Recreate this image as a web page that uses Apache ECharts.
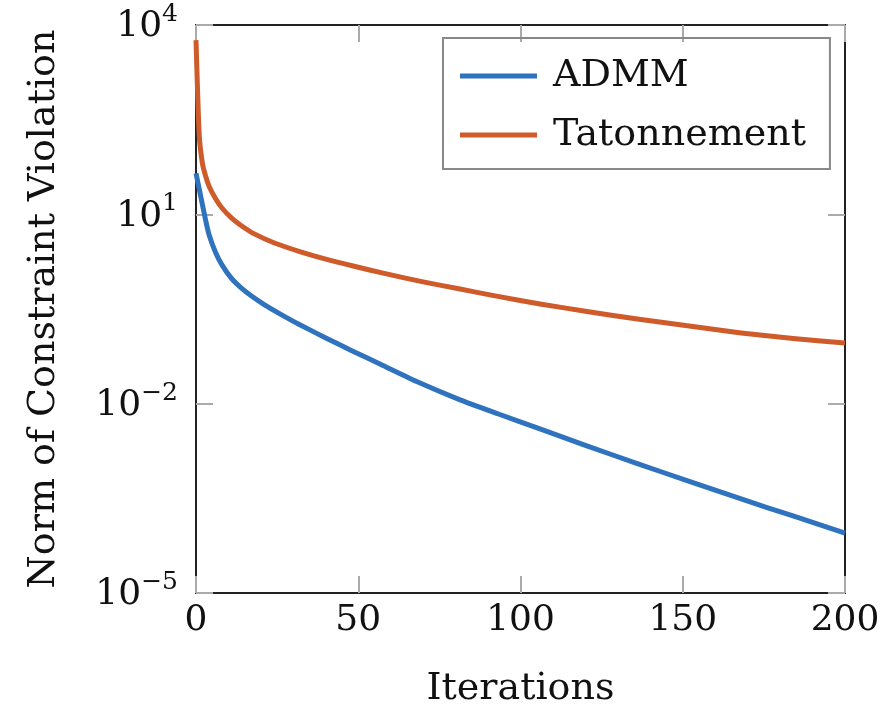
<!DOCTYPE html>
<html>
<head>
<meta charset="utf-8">
<script src="https://cdn.jsdelivr.net/npm/echarts@6/dist/echarts.min.js"></script>
<style>
  html, body { margin: 0; padding: 0; background: #fff; }
  #chart { width: 886px; height: 708px; }
</style>
</head>
<body>
<div id="chart"></div>
<script>
// 数据 - 读自原图
const admmIter   = [0, 1, 2, 3, 4, 6, 8, 11, 14, 17, 21, 26, 32, 40, 48, 57, 68, 81, 93, 106, 120, 136, 152, 168, 184, 200];
const admmValues = [44.7, 25.1, 14.1, 7.94, 4.79, 2.51, 1.58, 0.955, 0.676, 0.513, 0.372, 0.263, 0.178, 0.110, 0.0692, 0.0417,
                    0.0224, 0.0117, 0.00692, 0.00398, 0.00219, 0.00112, 0.000589, 0.000309, 0.000166, 0.0000891];

const tatIter    = [0, 1, 2, 3, 4, 6, 8, 11, 14, 18, 24, 32, 40, 50, 57, 70, 81, 93, 106, 120, 136, 152, 168, 184, 200];
const tatValues  = [5750, 178, 63.1, 39.8, 28.2, 17.8, 12.6, 8.71, 6.61, 4.90, 3.55, 2.57, 1.95, 1.45, 1.19, 0.851,
                    0.661, 0.501, 0.380, 0.292, 0.219, 0.170, 0.132, 0.108, 0.0912];

const xTicks     = [0, 50, 100, 150, 200];
const yTickExp   = { "-5": "−5", "-2": "−2", "1": "1", "4": "4" };

const font = "DejaVu Serif";

let chart = echarts.init(document.getElementById('chart'));

let frameLine = { show: true, onZero: false, lineStyle: { color: '#222', width: 2 } };
let innerTick = { show: true, inside: true, length: 17, lineStyle: { color: '#aaa', width: 2 } };

let option = {
    animation: false,
    backgroundColor: '#fff',
    grid: { left: 196, top: 25, right: 41, bottom: 115, outerBoundsMode: 'none', containLabel: false },
    legend: {
        left: 443, top: 38,
        orient: 'vertical',
        icon: 'rect',
        itemWidth: 77, itemHeight: 5,
        itemGap: 21, itemTextGap: 16,
        padding: [19, 24, 15, 17],
        borderColor: '#888', borderWidth: 2,
        textStyle: { fontFamily: font, fontSize: 38, lineHeight: 36, color: '#111', padding: [0, 0, 0, 11] },
        data: ['ADMM', 'Tatonnement']
    },
    xAxis: [{
        type: 'value', min: xTicks[0], max: xTicks[xTicks.length - 1], interval: 50,
        name: 'Iterations', nameLocation: 'middle', nameGap: 77,
        nameTextStyle: { fontFamily: font, fontSize: 38, color: '#111' },
        axisLine: frameLine, axisTick: innerTick,
        axisLabel: { fontFamily: font, fontSize: 36, color: '#111', margin: 10 },
        splitLine: { show: false }
    }, {
        type: 'value', position: 'top', min: 0, max: 200, interval: 50,
        axisLine: frameLine, axisTick: innerTick,
        axisLabel: { show: false }, splitLine: { show: false }
    }],
    yAxis: [{
        type: 'log', logBase: 10, min: 1e-5, max: 1e4, interval: 3,
        name: 'Norm of Constraint Violation', nameLocation: 'middle', nameGap: 133,
        nameTextStyle: { fontFamily: font, fontSize: 38, color: '#111' },
        axisLine: frameLine, axisTick: innerTick,
        axisLabel: {
            margin: 18,
            formatter: v => {
                let e = Math.round(Math.log10(v));
                return '{b|10}{s|' + (yTickExp[e] || e) + '}';
            },
            rich: {
                b: { fontFamily: font, fontSize: 36, color: '#111', verticalAlign: 'bottom', lineHeight: 40 },
                s: { fontFamily: font, fontSize: 25, color: '#111', verticalAlign: 'bottom', lineHeight: 40, padding: [0, 0, 18, 0] }
            }
        },
        splitLine: { show: false }
    }, {
        type: 'log', logBase: 10, position: 'right', min: 1e-5, max: 1e4, interval: 3,
        axisLine: frameLine, axisTick: innerTick,
        axisLabel: { show: false }, splitLine: { show: false }
    }],
    series: [{
        name: 'ADMM', type: 'line', symbol: 'none', smooth: 0.2,
        color: '#2f73bf',
        lineStyle: { width: 5, color: '#2f73bf', join: 'round' },
        data: admmIter.map((x, i) => [x, admmValues[i]])
    }, {
        name: 'Tatonnement', type: 'line', symbol: 'none', smooth: 0.2,
        color: '#cf5b2a',
        lineStyle: { width: 5, color: '#cf5b2a', join: 'round' },
        data: tatIter.map((x, i) => [x, tatValues[i]])
    }]
};

chart.setOption(option);
</script>
</body>
</html>
